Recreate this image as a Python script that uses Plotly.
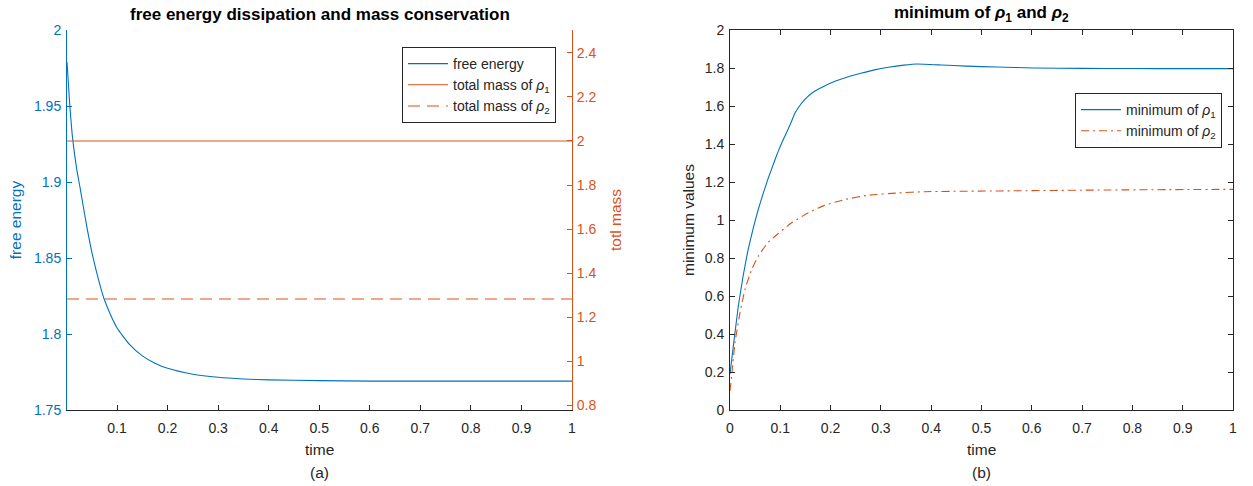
import plotly.graph_objects as go

# ---- data (a): free energy and total masses ----
t_fe = [0.001, 0.006, 0.012, 0.02, 0.027, 0.04, 0.052, 0.064, 0.075, 0.088, 0.1,
        0.125, 0.15, 0.175, 0.2, 0.25, 0.3, 0.35, 0.4, 0.5, 0.6, 0.7, 0.8, 0.9, 1.0]
free_energy = [1.979, 1.953, 1.929, 1.909, 1.896, 1.871, 1.851, 1.835, 1.8225, 1.812, 1.804,
               1.793, 1.7856, 1.7808, 1.7774, 1.7735, 1.7715, 1.7704, 1.7698, 1.7693, 1.769,
               1.769, 1.769, 1.769, 1.769]
t_mass = [0.001, 1.0]
mass_rho1 = [2.0, 2.0]
mass_rho2 = [1.282, 1.282]

# ---- data (b): minimum values ----
t_min1 = [0.0, 0.0066, 0.0165, 0.026, 0.036, 0.046, 0.056, 0.066, 0.076, 0.086, 0.0956,
          0.105, 0.115, 0.122, 0.1285, 0.135, 0.148, 0.165, 0.188, 0.21, 0.234, 0.26,
          0.287, 0.315, 0.346, 0.372, 0.42, 0.47, 0.53, 0.603, 0.7, 0.8, 0.9, 1.0]
min_rho1 = [0.19, 0.336, 0.546, 0.704, 0.844, 0.955, 1.054, 1.14, 1.22, 1.292, 1.36,
            1.418, 1.475, 1.517, 1.559, 1.588, 1.632, 1.672, 1.705, 1.731, 1.753, 1.772,
            1.79, 1.804, 1.815, 1.821, 1.816, 1.81, 1.805, 1.80, 1.798, 1.797, 1.7966, 1.7965]
t_min2 = [0.0, 0.0046, 0.0099, 0.0198, 0.0297, 0.043, 0.056, 0.076, 0.0956, 0.122, 0.155,
          0.188, 0.227, 0.274, 0.333, 0.386, 0.537, 0.75, 1.0]
min_rho2 = [0.1, 0.214, 0.354, 0.511, 0.634, 0.739, 0.809, 0.883, 0.928, 0.984, 1.037,
            1.077, 1.107, 1.13, 1.142, 1.149, 1.153, 1.158, 1.1614]

BLUE = "#0072BD"
ORANGE = "#D95319"
AX = "#262626"
FONT = "Liberation Sans, Arial, sans-serif"
TICK = 14
ATITLE = 15.5

fig = go.Figure()
fig.add_trace(go.Scatter(x=t_fe, y=free_energy, mode="lines", name="free energy",
                         line=dict(color=BLUE, width=1.1, shape="spline", smoothing=0.5),
                         xaxis="x", yaxis="y", legend="legend"))
fig.add_trace(go.Scatter(x=t_mass, y=mass_rho1, mode="lines",
                         name="total mass of <i>ρ</i><sub>1</sub>",
                         line=dict(color=ORANGE, width=1.1),
                         xaxis="x", yaxis="y2", legend="legend"))
fig.add_trace(go.Scatter(x=t_mass, y=mass_rho2, mode="lines",
                         name="total mass of <i>ρ</i><sub>2</sub>",
                         line=dict(color=ORANGE, width=1.1, dash="12px,7px"),
                         xaxis="x", yaxis="y2", legend="legend"))
fig.add_trace(go.Scatter(x=t_min1, y=min_rho1, mode="lines",
                         name="minimum of <i>ρ</i><sub>1</sub>",
                         line=dict(color=BLUE, width=1.1, shape="spline", smoothing=0.3),
                         xaxis="x2", yaxis="y3", legend="legend2"))
fig.add_trace(go.Scatter(x=t_min2, y=min_rho2, mode="lines",
                         name="minimum of <i>ρ</i><sub>2</sub>",
                         line=dict(color=ORANGE, width=1.1, dash="8px,4px,2px,4px",
                                   shape="spline", smoothing=0.5),
                         xaxis="x2", yaxis="y3", legend="legend2"))

tickf = dict(family=FONT, size=TICK, color=AX)

fig.update_layout(
    width=1253, height=486,
    margin=dict(l=0, r=0, t=30, b=76),
    paper_bgcolor="white", plot_bgcolor="white",
    font=dict(family=FONT, size=TICK, color=AX),
    showlegend=True,
    xaxis=dict(domain=[67/1253, 572/1253], range=[0.001, 1], tick0=0, dtick=0.1,
               ticks="inside", ticklen=5, tickcolor=AX, showline=True, linecolor=AX,
               linewidth=1, showgrid=False, zeroline=False, tickfont=tickf,
               ticklabelstandoff=5, anchor="y", automargin=False),
    yaxis=dict(domain=[0, 1], range=[1.75, 2], dtick=0.05, tick0=1.75,
               ticks="inside", ticklen=5, tickcolor=BLUE, showline=True, linecolor=BLUE,
               linewidth=1, showgrid=False, zeroline=False,
               tickfont=dict(family=FONT, size=TICK, color=BLUE), ticklabelstandoff=2,
               title=dict(text="free energy", font=dict(family=FONT, size=ATITLE, color=BLUE),
                          standoff=8),
               anchor="x", automargin=False),
    yaxis2=dict(overlaying="y", side="right", anchor="x", range=[0.7773, 2.5045],
                tick0=0.8, dtick=0.2, ticks="inside", ticklen=5, tickcolor=ORANGE,
                showline=True, linecolor=ORANGE, linewidth=1, showgrid=False,
                zeroline=False, tickfont=dict(family=FONT, size=TICK, color=ORANGE),
                ticklabelstandoff=1,
                title=dict(text="totl mass", font=dict(family=FONT, size=ATITLE, color=ORANGE),
                           standoff=14),
                automargin=False),
    xaxis2=dict(domain=[730/1253, 1233/1253], range=[0, 1], tick0=0, dtick=0.1,
                ticks="inside", ticklen=5, tickcolor=AX, showline=True, linecolor=AX,
                linewidth=1, mirror="ticks", showgrid=False, zeroline=False,
                tickfont=tickf, ticklabelstandoff=5, anchor="y3", automargin=False),
    yaxis3=dict(domain=[0, 1], range=[0, 2], tick0=0, dtick=0.2,
                ticks="inside", ticklen=5, tickcolor=AX, showline=True, linecolor=AX,
                linewidth=1, mirror="ticks", showgrid=False, zeroline=False,
                tickfont=tickf, ticklabelstandoff=2, anchor="x2",
                title=dict(text="minimum values", font=dict(family=FONT, size=ATITLE, color=AX),
                           standoff=6),
                automargin=False),
    legend=dict(x=402/1253, y=1 - 17/380, xanchor="left", yanchor="top",
                bgcolor="white", bordercolor=AX, borderwidth=1,
                font=dict(family=FONT, size=14, color=AX), tracegroupgap=0,
                itemwidth=40),
    legend2=dict(x=1075/1253, y=1 - 63/380, xanchor="left", yanchor="top",
                 bgcolor="white", bordercolor=AX, borderwidth=1,
                 font=dict(family=FONT, size=14, color=AX), tracegroupgap=0,
                 itemwidth=40),
)

cx_a = (67 + 572) / 2 / 1253
cx_b = (730 + 1233) / 2 / 1253
ann = [
    dict(text="<b>free energy dissipation and mass conservation</b>", x=cx_a,
         y=1 + 15/380, font=dict(family=FONT, size=17, color="black")),
    dict(text="<b>minimum of <i>ρ</i><sub>1</sub> and <i>ρ</i><sub>2</sub></b>",
         x=cx_b, y=1 + 16/380, font=dict(family=FONT, size=17, color="black")),
    dict(text="time", x=cx_a, y=-40/380, font=dict(family=FONT, size=ATITLE, color=AX)),
    dict(text="(a)", x=cx_a, y=-62/380, font=dict(family=FONT, size=ATITLE, color=AX)),
    dict(text="time", x=cx_b, y=-40/380, font=dict(family=FONT, size=ATITLE, color=AX)),
    dict(text="(b)", x=cx_b, y=-62/380, font=dict(family=FONT, size=ATITLE, color=AX)),
]
for a in ann:
    a.update(xref="paper", yref="paper", showarrow=False, xanchor="center", yanchor="middle")
fig.update_layout(annotations=ann)

fig.write_html("out.html")
